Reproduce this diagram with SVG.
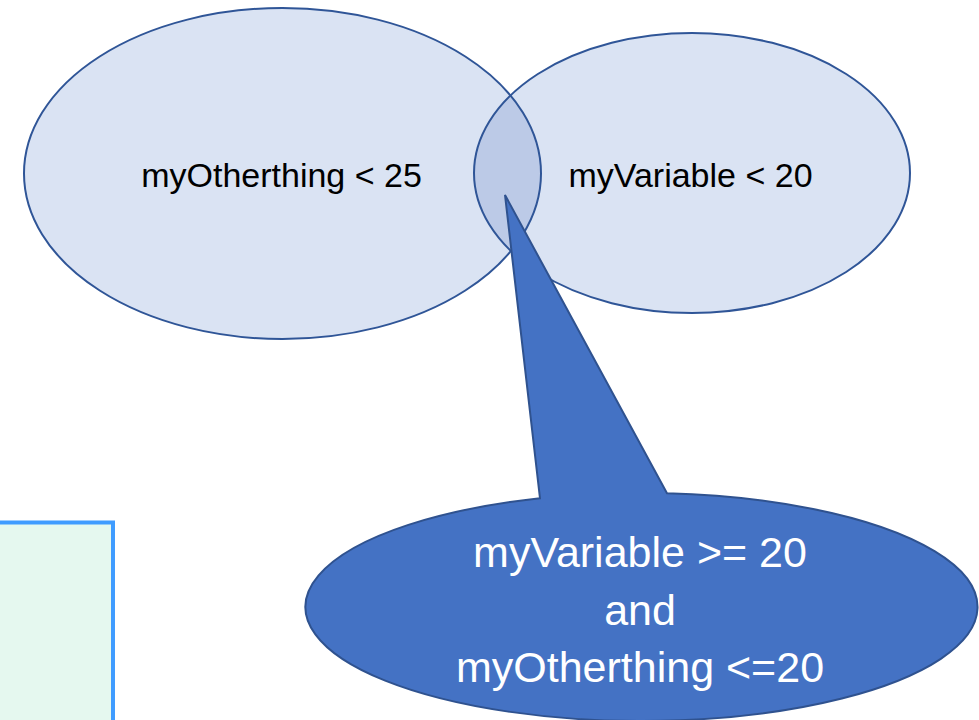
<svg xmlns="http://www.w3.org/2000/svg" width="979" height="720" viewBox="0 0 979 720">
  <style>
    .set { fill: #dae3f3; stroke: none; }
    .outline { fill: none; stroke: #2f5597; stroke-width: 2; }
    .overlap { fill: #bccae7; }
    .label { font-family: "Liberation Sans", Arial, sans-serif; font-size: 34px; fill: #000; text-anchor: middle; }
    .callout-shape { fill: #4472c4; stroke: #2f528f; stroke-width: 2; stroke-linejoin: miter; }
    .callout-text { font-family: "Liberation Sans", Arial, sans-serif; font-size: 43px; fill: #ffffff; text-anchor: middle; }
    .note { fill: #e5f8ef; stroke: #3f9cff; stroke-width: 4; }
  </style>
  <defs>
    <clipPath id="clipLeftSet">
      <ellipse cx="282.5" cy="173.5" rx="258.5" ry="165.5"/>
    </clipPath>
  </defs>

  <rect width="979" height="720" fill="#ffffff"/>

  <!-- left set -->
  <g id="set-otherthing">
    <ellipse class="set" cx="282.5" cy="173.5" rx="258.5" ry="165.5"/>
  </g>

  <!-- right set -->
  <g id="set-variable">
    <ellipse class="set" cx="692" cy="173" rx="218" ry="140"/>
  </g>

  <!-- intersection of the two sets -->
  <g id="set-overlap">
    <ellipse class="overlap" cx="692" cy="173" rx="218" ry="140" clip-path="url(#clipLeftSet)"/>
  </g>

  <!-- set outlines drawn over the fills so both borders show through the overlap -->
  <g id="set-outlines">
    <ellipse class="outline" cx="282.5" cy="173.5" rx="258.5" ry="165.5"/>
    <ellipse class="outline" cx="692" cy="173" rx="218" ry="140"/>
    <text class="label" x="281.5" y="187">myOtherthing &lt; 25</text>
    <text class="label" x="690.5" y="187">myVariable &lt; 20</text>
  </g>

  <!-- speech bubble pointing into the overlap -->
  <g id="callout">
    <path class="callout-shape" d="M 540 498.3 L 505 195 L 667 493.3 A 336 114 0 1 1 540 498.3 Z"/>
    <text class="callout-text" x="640" y="567">myVariable &gt;= 20</text>
    <text class="callout-text" x="640" y="625">and</text>
    <text class="callout-text" x="640" y="682">myOtherthing &lt;=20</text>
  </g>

  <!-- partially visible box at lower left -->
  <g id="note-box">
    <rect class="note" x="-6" y="522.5" width="119" height="210"/>
  </g>
</svg>
